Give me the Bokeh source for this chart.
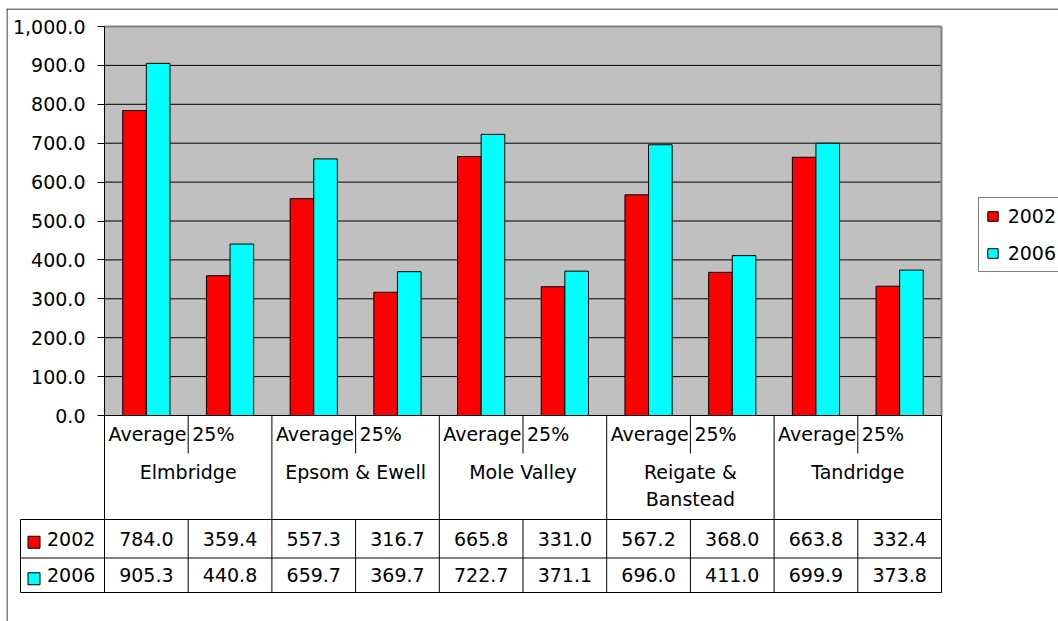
import textwrap

from bokeh.core.properties import value
from bokeh.embed import file_html
from bokeh.models import FixedTicker, Legend, LegendItem, NumeralTickFormatter, Range1d
from bokeh.plotting import figure
from bokeh.resources import INLINE

# ---- data -------------------------------------------------------------
districts = ["Elmbridge", "Epsom & Ewell", "Mole Valley", "Reigate & Banstead", "Tandridge"]
measures = ["Average", "25%"]
series = ["2002", "2006"]
values_2002 = [784.0, 359.4, 557.3, 316.7, 665.8, 331.0, 567.2, 368.0, 663.8, 332.4]
values_2006 = [905.3, 440.8, 659.7, 369.7, 722.7, 371.1, 696.0, 411.0, 699.9, 373.8]
y_ticks = [0, 100, 200, 300, 400, 500, 600, 700, 800, 900, 1000]

series_values = [values_2002, values_2006]
series_colors = ["#FF0000", "#00FFFF"]

# ---- layout -----------------------------------------------------------
W, H = 1058, 621
COL_PX = 83.7            # width of one measure column
X0_PX, Y0_PX = 104, 415  # canvas position of column 0 / value 0
VAL_PX = 0.389           # pixels per unit of value
LEFT, TOP = 6, 8         # chart border
FONT = "DejaVu Sans"
FS = "19px"


def ux(px):
    return (px - X0_PX) / COL_PX


def uy(px):
    return (Y0_PX - px) / VAL_PX


p = figure(
    width=W, height=H, output_backend="svg", toolbar_location=None,
    x_range=Range1d(ux(LEFT), ux(W)), y_range=Range1d(uy(H), uy(TOP)),
    x_axis_location=None, y_axis_location="left",
    min_border_left=LEFT, min_border_top=TOP, min_border_right=0, min_border_bottom=0,
)
p.outline_line_color = None
p.grid.visible = False
p.background_fill_color = "white"
p.border_fill_color = "white"

yax = p.yaxis[0]
yax.fixed_location = 0
yax.ticker = FixedTicker(ticks=y_ticks)
yax.formatter = NumeralTickFormatter(format="0,0.0")
yax.major_label_text_font = FONT
yax.major_label_text_font_size = FS
yax.major_label_text_color = "black"
yax.major_label_standoff = 12
yax.major_tick_out = 7
yax.major_tick_in = 0
yax.minor_tick_out = 0
yax.minor_tick_in = 0
yax.major_tick_line_color = "black"
yax.axis_line_color = None

n = len(values_2002)

# plot area
p.quad(left=[0], right=[n], bottom=[0], top=[y_ticks[-1]], fill_color="#C0C0C0", line_color=None)
grid_vals = [t for t in y_ticks if 0 < t < y_ticks[-1]]
p.segment(x0=[0] * len(grid_vals), x1=[n] * len(grid_vals), y0=grid_vals, y1=grid_vals,
          line_color="black", line_width=1)
p.segment(x0=[0, n], x1=[n, n], y0=[y_ticks[-1], 0], y1=[y_ticks[-1], y_ticks[-1]],
          line_color="#808080", line_width=2)

# bars
bar_w = 0.282
centers = [i + 0.5 for i in range(n)]
renderers = []
for k, (vals, col) in enumerate(zip(series_values, series_colors)):
    off = (k - 0.5) * bar_w
    r = p.vbar(x=[c + off for c in centers], top=vals, bottom=0, width=bar_w,
               fill_color=col, line_color="black", line_width=1)
    renderers.append(r)

# ---- data table -------------------------------------------------------
ROW_TOP = [519, 557.5]
ROW_BOT = [557.5, 592]
SUB_BOT = 453

# grid lines of the table
hx0 = [0] + [ux(20)] * 3
hx1 = [n] * 4
hy = [0, uy(519), uy(557.5), uy(592)]
p.segment(x0=hx0, x1=hx1, y0=hy, y1=hy, line_color="black", line_width=1)
# axis line continuing down through the table, left edge of the table
p.segment(x0=[0, ux(20)], x1=[0, ux(20)], y0=[y_ticks[-1], uy(519)], y1=[uy(592), uy(592)],
          line_color="black", line_width=1)
# district separators
gx = [2 * (g + 1) for g in range(len(districts))]
p.segment(x0=gx, x1=gx, y0=[0] * len(gx), y1=[uy(592)] * len(gx), line_color="black", line_width=1)
# measure separators
mx = [2 * g + 1 for g in range(len(districts))]
p.segment(x0=mx + mx, x1=mx + mx,
          y0=[0] * len(mx) + [uy(519)] * len(mx),
          y1=[uy(SUB_BOT)] * len(mx) + [uy(592)] * len(mx),
          line_color="black", line_width=1)

# measure labels
p.text(x=[i + 4 / COL_PX for i in range(n)], y=[uy(433)] * n,
       text=[measures[i % 2] for i in range(n)],
       text_font=value(FONT), text_font_size=FS, text_align="left", text_baseline="middle",
       text_color="black")

# district labels (wrapped when too long for the cell)
dx, dy, dt = [], [], []
for g, name in enumerate(districts):
    for j, line in enumerate(textwrap.wrap(name, 14)):
        dx.append(2 * g + 1)
        dy.append(uy(471 + j * 27.6))
        dt.append(line)
p.text(x=dx, y=dy, text=dt, text_font=value(FONT), text_font_size=FS,
       text_align="center", text_baseline="middle", text_color="black")

# table rows
for k, (name, vals, col) in enumerate(zip(series, series_values, series_colors)):
    cy = (ROW_TOP[k] + ROW_BOT[k]) / 2
    p.scatter(x=[ux(33.5)], y=[uy(cy + 3.5)], marker="square", size=12,
              fill_color=col, line_color="black", line_width=1)
    p.text(x=[ux(46.5)], y=[uy(cy)], text=[name], text_font=value(FONT), text_font_size=FS,
           text_align="left", text_baseline="middle", text_color="black")
    p.text(x=centers, y=[uy(cy)] * n, text=[f"{v:.1f}" for v in vals],
           text_font=value(FONT), text_font_size=FS,
           text_align="center", text_baseline="middle", text_color="black")

# chart border
p.segment(x0=[ux(LEFT + 0.5), ux(LEFT)], x1=[ux(LEFT + 0.5), ux(W)],
          y0=[uy(TOP), uy(TOP + 0.5)], y1=[uy(H), uy(TOP + 0.5)],
          line_color="black", line_width=1)

# legend
legend = Legend(
    items=[LegendItem(label=s, renderers=[r]) for s, r in zip(series, renderers)],
    location=(977.7 - LEFT, H - 271.7),
    border_line_color="black", border_line_width=1,
    background_fill_color="white", background_fill_alpha=1,
    label_text_font=FONT, label_text_font_size=FS, label_text_color="black",
    glyph_width=13, glyph_height=12, label_height=20, label_standoff=9,
    padding=7, spacing=15, margin=0,
)
p.add_layout(legend, "center")

open("out.html", "w").write(file_html(p, INLINE))
